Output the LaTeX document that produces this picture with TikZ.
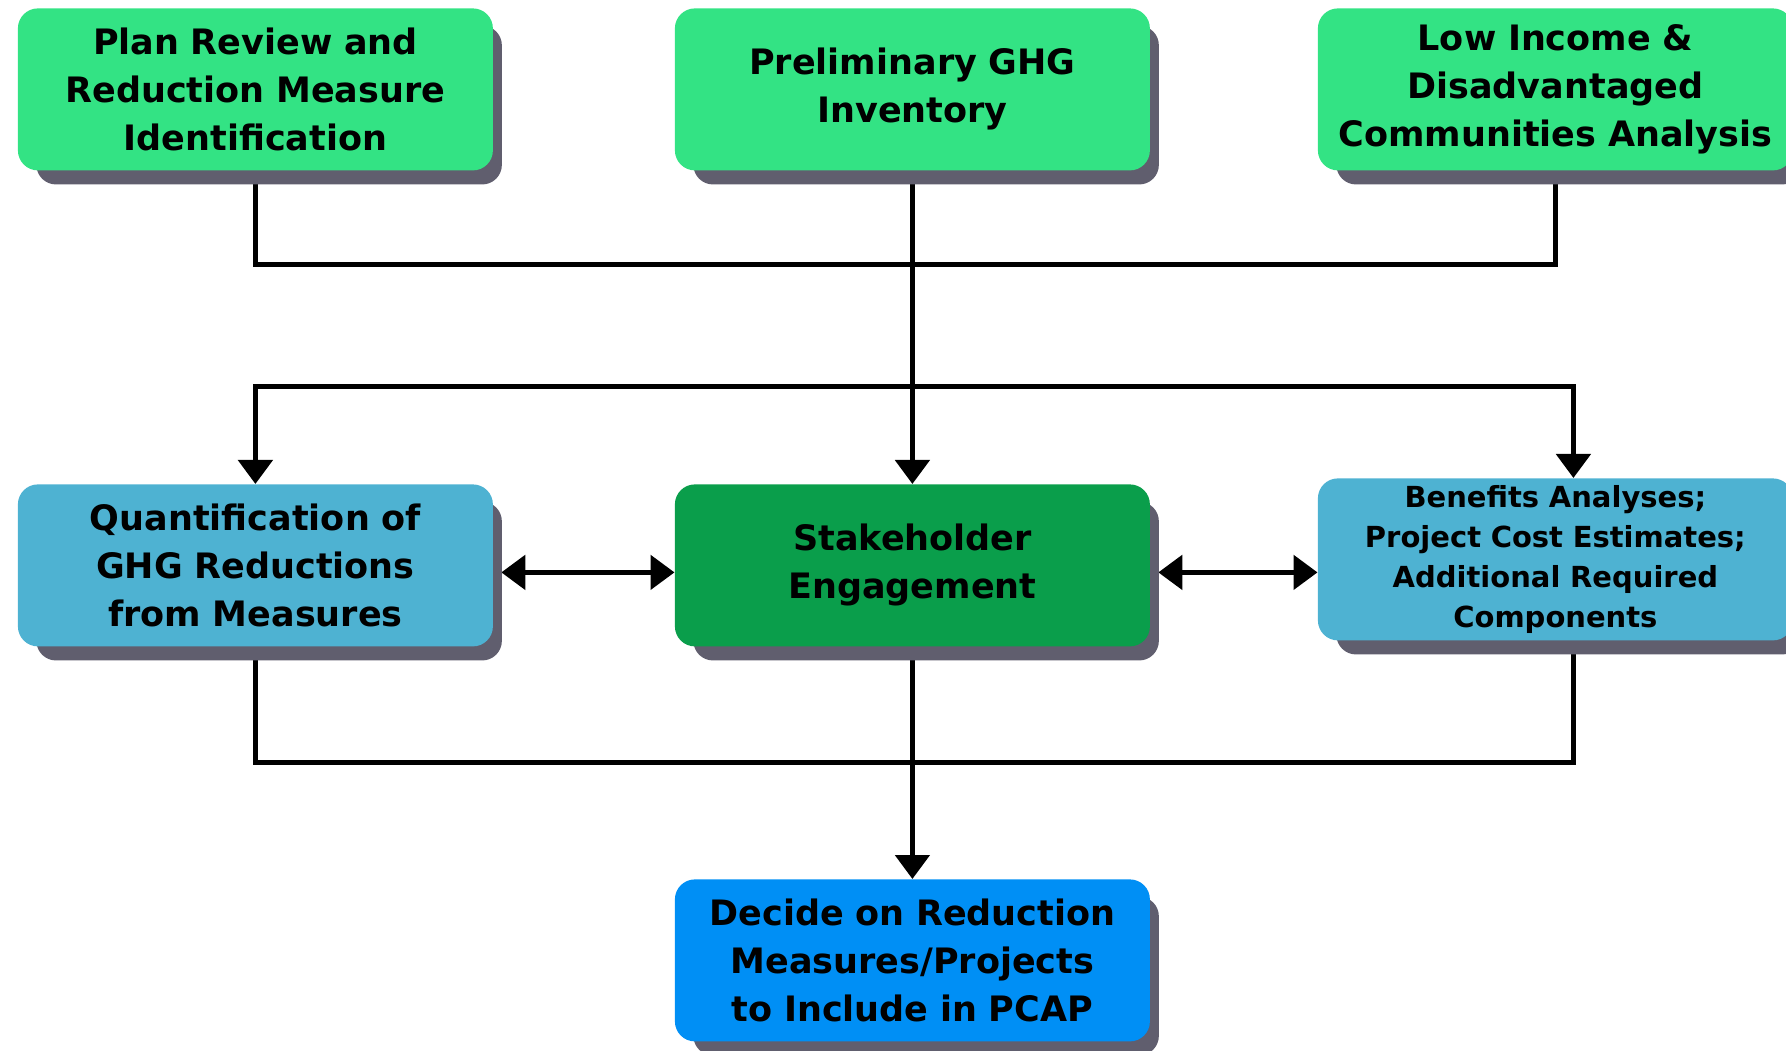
\documentclass[tikz,border=0pt]{standalone}
\usepackage{fontspec}
\setmainfont{DejaVu Sans}
\usetikzlibrary{matrix,shapes,arrows.meta,positioning,calc,shadows,backgrounds}

\definecolor{mint}{RGB}{51,227,132}
\definecolor{leaf}{RGB}{10,158,75}
\definecolor{sky}{RGB}{78,178,210}
\definecolor{azure}{RGB}{0,143,245}
\definecolor{slate}{RGB}{96,94,110}

\newcommand{\stagefont}{\fontsize{17.5}{24}\selectfont\bfseries}
\newcommand{\notefont}{\fontsize{14.5}{20}\selectfont\bfseries}

\tikzset{
  stage/.style={rectangle, rounded corners=10pt, text width=229.5pt, inner xsep=4pt, inner ysep=0pt,
    minimum height=81pt, align=center, font=\stagefont,
    general shadow={fill=slate, shadow xshift=7pt, shadow yshift=-8pt, shadow scale=0.98}},
  inputs/.style={stage, fill=mint},
  review/.style={stage, fill=sky},
  engage/.style={stage, fill=leaf},
  decide/.style={stage, fill=azure},
  notes/.style={font=\notefont},
  link/.style={line width=2.5pt},
  arr/.style={link, -{Triangle[length=12pt,width=17pt]}},
  darr/.style={link, {Triangle[length=12pt,width=17pt]}-{Triangle[length=12pt,width=17pt]}}
}

\begin{document}
\begin{tikzpicture}
\useasboundingbox (0,0) rectangle (893pt,525pt);

\matrix (m)[matrix of nodes, column sep=84pt, row sep=116.5pt, inner sep=0pt, anchor=north west, nodes={anchor=center}] at (8.75pt,521pt) {
|[inputs]| {Plan Review and\\ Reduction Measure\\ Identification} &[7pt] |[inputs]| {Preliminary GHG\\ Inventory} & |[inputs]| {Low Income \&\\ Disadvantaged\\ Communities Analysis} \\[37.5pt]
|[review]| {Quantification of\\ GHG Reductions\\ from Measures} &[7pt] |[engage]| {Stakeholder\\ Engagement} & |[review, notes, yshift=3pt]| {Benefits Analyses;\\ Project Cost Estimates;\\ Additional Required\\ Components} \\
&[7pt] |[decide]| {Decide on Reduction\\ Measures/Projects\\ to Include in PCAP} & \\
};

% Buses
\coordinate (upper bus) at (0,392.5pt);
\coordinate (middle bus) at (0,331.5pt);
\coordinate (lower bus) at (0,144pt);
\coordinate (f top) at ([xshift=9pt]m-2-3.north);
\coordinate (f foot) at ([xshift=9pt]m-2-3.south);
\coordinate (d side) at ([yshift=-3.5pt]m-2-1.east);
\coordinate (e side) at ([yshift=-3.5pt]m-2-2.east);

\begin{scope}[on background layer]
% Inputs
\draw[link] (m-1-1.south) -- (m-1-1.south |- upper bus) -- (m-1-3.south |- upper bus) -- (m-1-3.south);
\draw[arr] (m-1-2.south) -- (m-2-2.north);
\draw[darr] (m-2-1.north) -- (m-2-1.north |- middle bus) -- (f top |- middle bus) -- (f top);

% Exchange
\draw[darr, shorten <=4pt] (d side) -- (d side -| m-2-2.west);
\draw[darr, shorten <=4pt] (e side) -- (e side -| m-2-3.west);

% Outputs
\draw[link] (m-2-1.south) -- (m-2-1.south |- lower bus) -- (f foot |- lower bus) -- (f foot);
\draw[arr] (m-2-2.south) -- (m-3-2.north);
\end{scope}

\end{tikzpicture}
\end{document}
